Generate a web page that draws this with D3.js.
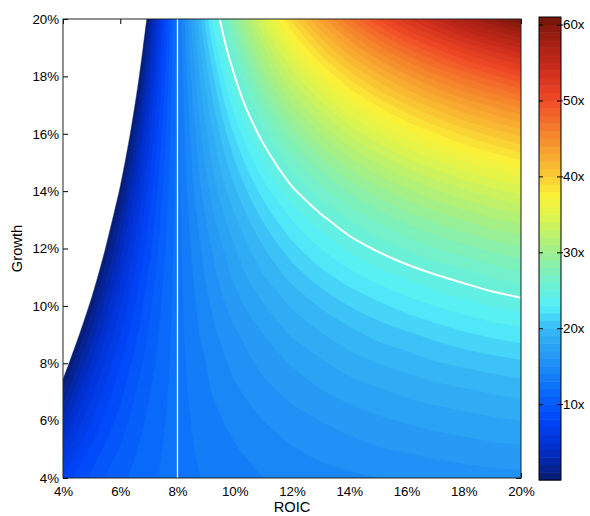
<!DOCTYPE html>
<html>
<head>
<meta charset="utf-8">
<script src="https://cdn.jsdelivr.net/npm/d3@7"></script>
<style>
  body { margin: 0; background: #fff; }
  text { font-family: "Liberation Sans", Arial, sans-serif; fill: #000; }
  .tick text { font-size: 13.3px; }
  .axis-label { font-size: 14.7px; }
</style>
</head>
<body>
<div id="chart"></div>
<script>
// grid axes (%)
const roic = [4, 5, 6, 7, 8, 9, 10, 11, 12, 13, 14, 15, 16, 17, 18, 19, 20];
const growth = [4, 5, 6, 7, 8, 9, 10, 11, 12, 13, 14, 15, 16, 17, 18, 19, 20];

// multiple (x) for each growth row, one value per roic column
const g04 = [7.1, 9.3, 10.7, 11.7, 12.5, 13.1, 13.6, 14.0, 14.3, 14.6, 14.8, 15.0, 15.2, 15.4, 15.5, 15.6, 15.7];
const g05 = [5.3, 8.2, 10.1, 11.5, 12.5, 13.3, 13.9, 14.5, 14.9, 15.3, 15.6, 15.9, 16.1, 16.3, 16.5, 16.7, 16.8];
const g06 = [3.3, 7.0, 9.4, 11.2, 12.5, 13.5, 14.3, 15.0, 15.6, 16.0, 16.4, 16.8, 17.1, 17.4, 17.6, 17.8, 18.0];
const g07 = [1.1, 5.7, 8.7, 10.9, 12.5, 13.8, 14.8, 15.6, 16.3, 16.9, 17.4, 17.8, 18.2, 18.5, 18.8, 19.1, 19.3];
const g08 = [-1.4, 4.2, 7.9, 10.5, 12.5, 14.0, 15.3, 16.3, 17.1, 17.8, 18.5, 19.0, 19.4, 19.9, 20.2, 20.5, 20.8];
const g09 = [-4.2, 2.5, 6.9, 10.1, 12.5, 14.4, 15.8, 17.0, 18.1, 18.9, 19.6, 20.3, 20.8, 21.3, 21.8, 22.2, 22.5];
const g10 = [-7.3, 0.6, 5.9, 9.7, 12.5, 14.7, 16.5, 17.9, 19.1, 20.1, 21.0, 21.7, 22.4, 23.0, 23.5, 24.0, 24.4];
const g11 = [-10.8, -1.5, 4.7, 9.2, 12.5, 15.1, 17.2, 18.9, 20.3, 21.5, 22.5, 23.4, 24.1, 24.8, 25.4, 26.0, 26.5];
const g12 = [-14.7, -3.8, 3.4, 8.6, 12.5, 15.5, 17.9, 19.9, 21.6, 23.0, 24.2, 25.2, 26.1, 26.9, 27.6, 28.3, 28.8];
const g13 = [-19.1, -6.4, 2.0, 8.0, 12.5, 16.0, 18.8, 21.1, 23.0, 24.6, 26.0, 27.2, 28.3, 29.2, 30.0, 30.8, 31.4];
const g14 = [-24.0, -9.4, 0.3, 7.3, 12.5, 16.6, 19.8, 22.4, 24.7, 26.5, 28.1, 29.5, 30.7, 31.8, 32.8, 33.6, 34.4];
const g15 = [-29.4, -12.7, -1.5, 6.5, 12.5, 17.2, 20.9, 23.9, 26.5, 28.6, 30.5, 32.1, 33.5, 34.7, 35.8, 36.8, 37.7];
const g16 = [-35.5, -16.3, -3.5, 5.6, 12.5, 17.8, 22.1, 25.6, 28.5, 31.0, 33.1, 34.9, 36.5, 37.9, 39.2, 40.3, 41.3];
const g17 = [-42.3, -20.4, -5.8, 4.7, 12.5, 18.6, 23.5, 27.5, 30.8, 33.6, 36.0, 38.1, 39.9, 41.5, 43.0, 44.2, 45.4];
const g18 = [-49.9, -25.0, -8.3, 3.6, 12.5, 19.4, 24.99, 29.5, 33.3, 36.5, 39.3, 41.6, 43.7, 45.6, 47.2, 48.6, 50.0];
const g19 = [-58.4, -30.0, -11.1, 2.4, 12.5, 20.4, 26.7, 31.8, 36.1, 39.8, 42.9, 45.6, 48.0, 50.0, 51.9, 53.5, 55.0];
const g20 = [-67.9, -35.7, -14.3, 1.0, 12.5, 21.4, 28.6, 34.4, 39.3, 43.4, 46.9, 50.0, 52.7, 55.0, 57.1, 59.0, 60.7];

const xTicks = [4, 6, 8, 10, 12, 14, 16, 18, 20];
const yTicks = [4, 6, 8, 10, 12, 14, 16, 18, 20];
const barTicks = [10, 20, 30, 40, 50, 60];
const levels = d3.range(0, 61, 1);   // contour levels, 1x apart
const barRange = [0, 61];
const waccRoic = 8;                 // white vertical line
const markedMultiple = 25;          // white contour

const rows = [g04, g05, g06, g07, g08, g09, g10, g11, g12, g13, g14, g15, g16, g17, g18, g19, g20];
const values = rows.flat();

const width = 590, height = 516;
const plot = { left: 63, right: 521, top: 19, bottom: 478 };

const x = d3.scaleLinear().domain([roic[0], roic[roic.length - 1]]).range([plot.left, plot.right]);
const y = d3.scaleLinear().domain([growth[0], growth[growth.length - 1]]).range([plot.bottom, plot.top]);

// jet-like colormap
const color = d3.scaleLinear()
  .domain([0, 4, 8, 12, 16, 20, 23, 27, 31, 35, 37.5, 41, 45, 50, 54, 58, 61])
  .range(["#081c6e", "#002dc8", "#0046fa", "#0a6efa", "#2396f5", "#37b9f5", "#55f0fa",
          "#78f0c3", "#aaf07d", "#e1f54b", "#faf037", "#fabe32", "#f58c2d", "#f04b26",
          "#cd2d1c", "#a01e12", "#73140c"])
  .clamp(true);

const svg = d3.select("#chart").append("svg")
  .attr("width", width)
  .attr("height", height);

// ticks sit under the filled surface, like the original
svg.append("g")
  .attr("transform", `translate(0, ${plot.bottom})`)
  .call(d3.axisBottom(x).tickValues(xTicks).tickFormat(d => d + "%").tickSizeInner(-5).tickSizeOuter(0).tickPadding(9))
  .call(g => g.select(".domain").remove());
svg.append("g")
  .attr("transform", `translate(${plot.left}, 0)`)
  .call(d3.axisLeft(y).tickValues(yTicks).tickFormat(d => d + "%").tickSizeInner(-5).tickSizeOuter(0).tickPadding(4))
  .call(g => g.select(".domain").remove());
svg.append("g")
  .attr("transform", `translate(0, ${plot.top})`)
  .call(d3.axisTop(x).tickValues(xTicks).tickFormat("").tickSizeInner(-5).tickSizeOuter(0))
  .call(g => g.select(".domain").remove());
svg.append("g")
  .attr("transform", `translate(${plot.right}, 0)`)
  .call(d3.axisRight(y).tickValues(yTicks).tickFormat("").tickSizeInner(-5).tickSizeOuter(0))
  .call(g => g.select(".domain").remove());
svg.selectAll(".tick line").attr("stroke", "#000");

svg.append("clipPath").attr("id", "clip")
  .append("rect")
  .attr("x", plot.left).attr("y", plot.top)
  .attr("width", plot.right - plot.left).attr("height", plot.bottom - plot.top);

// grid cell (i + 0.5, j + 0.5) holds roic[i], growth[j].
// Multiples move with 1/ROIC, so a crossing between two columns is placed harmonically.
const nx = roic.length, ny = growth.length;
const xStep = roic[1] - roic[0], yStep = growth[1] - growth[0];
function roicAt(cx) {
  const f = cx - 0.5;
  if (f <= 0 || f >= nx - 1) return roic[0] + f * xStep;
  const i = Math.min(nx - 2, Math.floor(f));
  const t = f - i;
  return 1 / ((1 - t) / roic[i] + t / roic[i + 1]);
}
const toScreen = ([cx, cy]) => [x(roicAt(cx)), y(growth[0] + (cy - 0.5) * yStep)];
const onEdge = ([cx, cy]) => cx <= 0 || cx >= nx || cy <= 0 || cy >= ny;

const openCurve = d3.line().curve(d3.curveCatmullRom.alpha(0.5));
const closedCurve = d3.line().curve(d3.curveCatmullRomClosed.alpha(0.5));

// drop crossings that sit almost on top of each other
function thin(pts) {
  const out = [pts[0]];
  for (let k = 1; k < pts.length; k++) {
    const q = out[out.length - 1];
    if (k === pts.length - 1 || Math.hypot(pts[k][0] - q[0], pts[k][1] - q[1]) >= 3) out.push(pts[k]);
  }
  return out;
}

// interior runs of a ring (the actual contour lines, without the grid border)
function interiorRuns(ring) {
  const pts = ring.slice(0, -1);
  const start = pts.findIndex(onEdge);
  if (start < 0) return { closed: true, runs: [pts] };
  const seq = pts.slice(start).concat(pts.slice(0, start));
  const runs = [];
  let run = [];
  seq.forEach(p => {
    if (onEdge(p)) { if (run.length) runs.push(run); run = []; runs.push(p); }
    else run.push(p);
  });
  if (run.length) runs.push(run);
  return { closed: false, runs };
}

function ringPath(ring) {
  const { closed, runs } = interiorRuns(ring);
  if (closed) return closedCurve(thin(runs[0].map(toScreen)));
  let d = "";
  runs.forEach((r, k) => {
    if (!Array.isArray(r[0])) {               // a border point
      d += (k === 0 ? "M" : "L") + toScreen(r);
    } else if (r.length === 1) {
      d += "L" + toScreen(r[0]);
    } else {
      d += openCurve(thin(r.map(toScreen))).replace(/^M/, "L");
    }
  });
  return d + "Z";
}
const bandPath = d => d.coordinates.map(poly => poly.map(ringPath).join("")).join("");

function linePath(d) {
  let out = "";
  d.coordinates.forEach(poly => poly.forEach(ring => {
    const { closed, runs } = interiorRuns(ring);
    if (closed) { out += closedCurve(thin(runs[0].map(toScreen))); return; }
    runs.filter(r => Array.isArray(r[0]) && r.length > 1)
      .forEach(r => { out += openCurve(thin(r.map(toScreen))); });
  }));
  return out;
}

const contours = d3.contours().size([nx, ny]).thresholds(levels)(values);

const surface = svg.append("g").attr("clip-path", "url(#clip)");
surface.selectAll("path.band")
  .data(contours)
  .join("path")
  .attr("class", "band")
  .attr("d", bandPath)
  .attr("fill-rule", "evenodd")
  .attr("fill", d => color(d.value + 0.5))
  .attr("stroke", d => color(d.value + 0.5))
  .attr("stroke-width", 0.4);

surface.append("line")
  .attr("x1", x(waccRoic)).attr("x2", x(waccRoic))
  .attr("y1", plot.top).attr("y2", plot.bottom)
  .attr("stroke", "#fff").attr("stroke-width", 1.3);

const marked = d3.contours().size([nx, ny]).thresholds([markedMultiple])(values);
surface.selectAll("path.marked")
  .data(marked)
  .join("path")
  .attr("class", "marked")
  .attr("d", linePath)
  .attr("fill", "none")
  .attr("stroke", "#fff")
  .attr("stroke-width", 2);

svg.append("rect")
  .attr("x", plot.left).attr("y", plot.top)
  .attr("width", plot.right - plot.left).attr("height", plot.bottom - plot.top)
  .attr("fill", "none").attr("stroke", "#222").attr("stroke-width", 1);

svg.append("text").attr("class", "axis-label")
  .attr("x", (plot.left + plot.right) / 2).attr("y", 512)
  .attr("text-anchor", "middle").text("ROIC");
svg.append("text").attr("class", "axis-label")
  .attr("transform", `translate(22, ${(plot.top + plot.bottom) / 2}) rotate(-90)`)
  .attr("text-anchor", "middle").text("Growth");

// colorbar
const bar = { left: 539, right: 561, top: 17, bottom: 480 };
const yBar = d3.scaleLinear().domain(barRange).range([bar.bottom, bar.top]);
const cb = svg.append("g");
cb.selectAll("rect")
  .data(levels)
  .join("rect")
  .attr("x", bar.left)
  .attr("width", bar.right - bar.left)
  .attr("y", d => yBar(Math.min(d + 1, barRange[1])))
  .attr("height", d => yBar(d) - yBar(Math.min(d + 1, barRange[1])) + 0.5)
  .attr("fill", d => color(d + 0.5));
cb.append("g")
  .attr("transform", `translate(${bar.right}, 0)`)
  .call(d3.axisRight(yBar).tickValues(barTicks).tickFormat(d => d + "x").tickSizeInner(4).tickSizeOuter(0).tickPadding(-2))
  .call(g => g.select(".domain").remove())
  .call(g => g.selectAll(".tick line").attr("x1", -4).attr("x2", 2).attr("stroke", "#000"));
cb.append("g")
  .attr("transform", `translate(${bar.left}, 0)`)
  .call(d3.axisLeft(yBar).tickValues(barTicks).tickFormat("").tickSizeInner(-4).tickSizeOuter(0))
  .call(g => g.select(".domain").remove())
  .call(g => g.selectAll(".tick line").attr("stroke", "#000"));
cb.append("rect")
  .attr("x", bar.left).attr("y", bar.top)
  .attr("width", bar.right - bar.left).attr("height", bar.bottom - bar.top)
  .attr("fill", "none").attr("stroke", "#000").attr("stroke-width", 1);
</script>
</body>
</html>
